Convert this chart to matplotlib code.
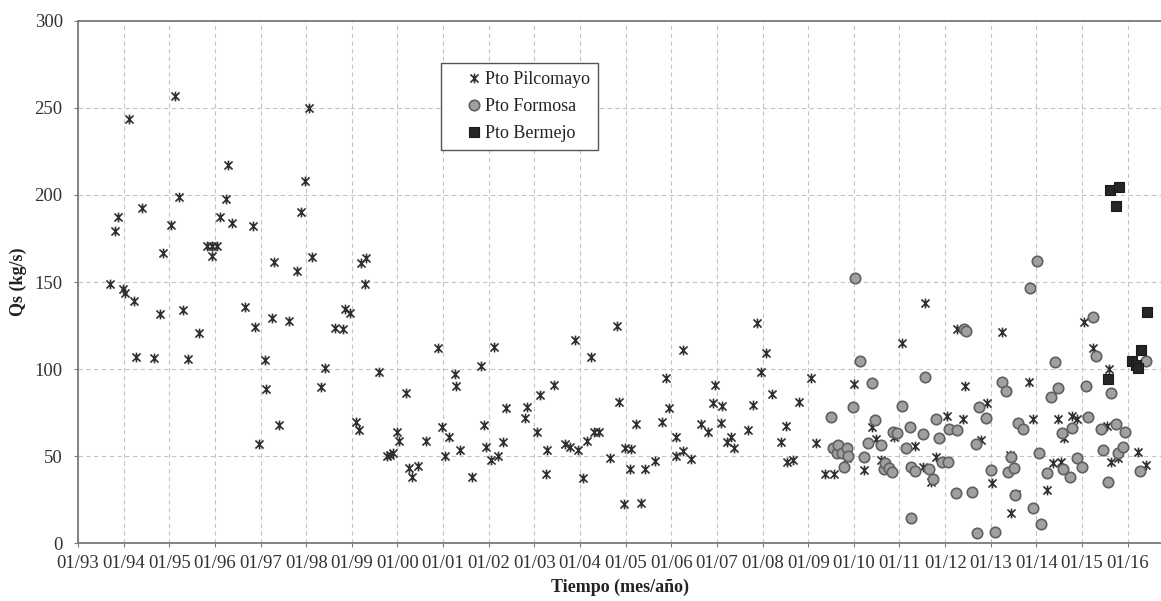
import matplotlib
matplotlib.use("Agg")
import matplotlib.pyplot as plt
from matplotlib.path import Path
import numpy as np

plt.rcParams['font.family'] = ['Liberation Serif', 'DejaVu Serif']

# Pto Pilcomayo (decimal year, Qs kg/s)
pil_t = [1993.70, 1993.81, 1993.88, 1993.98, 1994.03, 1994.12, 1994.23, 1994.27, 1994.40, 1994.67,
         1994.80, 1994.87, 1995.04, 1995.13, 1995.22, 1995.29, 1995.42, 1995.66, 1995.82, 1995.93,
         1995.94, 1996.04, 1996.11, 1996.24, 1996.28, 1996.38, 1996.66, 1996.84, 1996.88, 1996.96,
         1997.10, 1997.12, 1997.24, 1997.29, 1997.40, 1997.62, 1997.80, 1997.89, 1997.97, 1998.06,
         1998.12, 1998.32, 1998.41, 1998.62, 1998.80, 1998.85, 1998.96, 1999.10, 1999.16, 1999.19,
         1999.29, 1999.32, 1999.60, 1999.76, 1999.84, 1999.91, 2000.00, 2000.03, 2000.18, 2000.25,
         2000.32, 2000.44, 2000.62, 2000.88, 2000.98, 2001.04, 2001.13, 2001.26, 2001.28, 2001.37,
         2001.63, 2001.83, 2001.90, 2001.93, 2002.04, 2002.12, 2002.21, 2002.32, 2002.38, 2002.79,
         2002.83, 2003.05, 2003.13, 2003.25, 2003.28, 2003.44, 2003.66, 2003.78, 2003.89, 2003.95,
         2004.07, 2004.15, 2004.24, 2004.31, 2004.42, 2004.66, 2004.80, 2004.86, 2004.96, 2004.98,
         2005.09, 2005.12, 2005.23, 2005.34, 2005.42, 2005.64, 2005.79, 2005.88, 2005.95, 2006.10,
         2006.11, 2006.25, 2006.26, 2006.43, 2006.65, 2006.80, 2006.92, 2006.96, 2007.09, 2007.10,
         2007.21, 2007.31, 2007.38, 2007.69, 2007.80, 2007.87, 2007.96, 2008.07, 2008.20, 2008.40,
         2008.51, 2008.53, 2008.66, 2008.80, 2009.06, 2009.18, 2009.37, 2009.57, 2009.84, 2010.01,
         2010.23, 2010.40, 2010.48, 2010.60, 2010.87, 2011.06, 2011.33, 2011.52, 2011.56, 2011.70,
         2011.81, 2012.05, 2012.27, 2012.40, 2012.43, 2012.79, 2012.91, 2013.03, 2013.24, 2013.42,
         2013.44, 2013.55, 2013.84, 2013.92, 2014.23, 2014.37, 2014.48, 2014.54, 2014.61, 2014.79,
         2014.90, 2015.05, 2015.24, 2015.54, 2015.58, 2015.63, 2015.78, 2016.23, 2016.41]
pil_q = [149.0, 179.4, 187.1, 146.0, 143.9, 243.7, 139.1, 106.8, 192.3, 106.6,
         131.5, 166.5, 182.7, 256.9, 198.6, 133.9, 105.7, 120.9, 170.7, 170.7,
         165.1, 170.7, 187.1, 197.4, 217.3, 183.7, 135.5, 182.3, 124.4, 57.0,
         105.3, 88.6, 129.5, 161.6, 68.0, 127.6, 156.5, 190.3, 207.9, 249.6,
         164.2, 90.0, 100.5, 123.8, 123.0, 134.3, 132.0, 69.9, 65.1, 160.7,
         148.9, 163.6, 98.2, 50.2, 50.8, 52.1, 64.1, 59.0, 86.1, 43.1,
         38.3, 44.5, 59.0, 112.3, 67.0, 50.2, 61.3, 97.0, 90.5, 53.6,
         38.3, 101.8, 68.0, 55.2, 47.9, 112.5, 50.2, 58.4, 77.9, 72.2,
         78.1, 63.8, 85.2, 39.9, 53.6, 90.9, 57.1, 55.2, 116.7, 53.6,
         37.4, 59.0, 106.8, 63.8, 63.8, 49.2, 124.9, 81.3, 22.5, 54.6,
         42.7, 54.0, 68.4, 23.1, 42.7, 47.3, 69.9, 95.1, 77.9, 60.9,
         50.4, 111.0, 53.1, 48.6, 68.4, 63.8, 80.8, 90.9, 68.9, 79.0,
         58.0, 61.3, 55.0, 65.1, 79.4, 126.7, 98.6, 109.1, 85.6, 58.4,
         67.6, 46.6, 47.9, 81.3, 95.1, 57.8, 39.9, 39.9, 49.2, 91.3,
         42.2, 67.0, 59.8, 47.9, 61.0, 114.8, 55.9, 44.0, 138.1, 35.0,
         49.8, 73.1, 122.9, 71.2, 90.3, 59.4, 80.4, 34.9, 121.5, 50.5,
         17.3, 28.5, 92.8, 71.2, 30.7, 46.0, 71.2, 46.9, 60.3, 73.1,
         71.2, 127.2, 112.0, 67.4, 100.1, 46.9, 48.9, 52.7, 45.0]

# Pto Formosa
for_t = [2009.51, 2009.55, 2009.62, 2009.66, 2009.75, 2009.79, 2009.84, 2009.88, 2009.99, 2010.02,
         2010.13, 2010.23, 2010.30, 2010.39, 2010.46, 2010.59, 2010.65, 2010.68, 2010.77, 2010.83,
         2010.86, 2010.94, 2011.06, 2011.14, 2011.24, 2011.25, 2011.26, 2011.34, 2011.51, 2011.56,
         2011.65, 2011.74, 2011.79, 2011.87, 2011.94, 2012.06, 2012.09, 2012.24, 2012.27, 2012.42,
         2012.45, 2012.58, 2012.67, 2012.69, 2012.74, 2012.89, 2013.00, 2013.09, 2013.25, 2013.33,
         2013.38, 2013.44, 2013.51, 2013.53, 2013.60, 2013.71, 2013.86, 2013.93, 2014.01, 2014.06,
         2014.11, 2014.23, 2014.32, 2014.41, 2014.48, 2014.55, 2014.59, 2014.73, 2014.79, 2014.90,
         2015.00, 2015.09, 2015.12, 2015.25, 2015.30, 2015.42, 2015.47, 2015.56, 2015.63, 2015.74,
         2015.79, 2015.90, 2015.95, 2016.28, 2016.41]
for_q = [72.7, 54.6, 51.7, 56.5, 52.1, 43.7, 54.6, 50.2, 78.1, 152.5,
         104.9, 49.8, 57.5, 92.2, 70.8, 56.5, 42.6, 46.0, 43.1, 41.2,
         64.1, 63.6, 79.0, 54.6, 66.6, 44.0, 14.4, 41.8, 62.8, 95.3,
         42.6, 36.8, 71.4, 60.3, 46.6, 46.6, 65.7, 29.1, 65.1, 122.9,
         122.0, 29.7, 57.0, 5.9, 78.2, 71.8, 42.2, 6.8, 92.8, 87.7,
         41.2, 49.4, 43.1, 27.8, 68.9, 65.5, 146.4, 20.2, 162.2, 52.1,
         11.2, 40.6, 84.2, 104.3, 89.0, 63.6, 42.6, 38.0, 66.1, 48.9,
         43.7, 90.3, 72.7, 129.8, 107.6, 65.5, 53.6, 35.5, 86.1, 68.5,
         51.7, 55.5, 64.1, 41.8, 104.7]

# Pto Bermejo
ber_t = [2015.57, 2015.61, 2015.74, 2015.81, 2016.09, 2016.19, 2016.23, 2016.29, 2016.42]
ber_q = [94.3, 202.8, 193.8, 204.3, 104.9, 102.5, 100.5, 111.2, 132.6]

years = list(range(1993, 2017))
year_labels = [f"01/{y % 100:02d}" for y in years]

# X crossed by a vertical line (Excel "star" marker)
star = Path([(-1, -1), (1, 1), (-1, 1), (1, -1), (0, -1.2), (0, 1.2)],
            [Path.MOVETO, Path.LINETO, Path.MOVETO, Path.LINETO, Path.MOVETO, Path.LINETO])

fig = plt.figure(figsize=(11.61, 6.01), dpi=100)
ax = fig.add_axes([0.0672, 0.0957, 0.9328, 0.870])

ax.plot(pil_t, pil_q, ls='none', marker=star, ms=7, mec='#303030', mew=1.2,
        mfc='none', label='Pto Pilcomayo', zorder=3)
ax.plot(for_t, for_q, ls='none', marker='o', ms=7.5, mfc='#a0a0a0', mec='#606060',
        mew=1.2, label='Pto Formosa', zorder=3)
ax.plot(ber_t, ber_q, ls='none', marker='s', ms=7, mfc='#262626', mec='#1a1a1a',
        mew=0.8, label='Pto Bermejo', zorder=4)

ax.set_xlim(1993, 2016.73)
ax.set_ylim(0, 300)
ax.set_xticks(years)
ax.set_xticklabels(year_labels)
ax.set_yticks(range(0, 301, 50))

ax.grid(True, color='#c4c4c4', linestyle=(0, (4, 3)), linewidth=0.8)
ax.set_axisbelow(True)

for s in ['top', 'left', 'bottom']:
    ax.spines[s].set_color('#7a7a7a')
    ax.spines[s].set_linewidth(1.3)
ax.spines['right'].set_visible(False)

ax.tick_params(axis='both', labelsize=13.5, colors='#7a7a7a', labelcolor='#333333',
               length=3, direction='out')
ax.tick_params(axis='x', pad=5)
ax.tick_params(axis='y', pad=8)

ax.set_xlabel('Tiempo (mes/año)', fontsize=13, fontweight='bold', color='#222222')
ax.set_ylabel('Qs (kg/s)', fontsize=13, fontweight='bold', color='#222222')
ax.xaxis.set_label_coords(0.5, -0.068)
ax.yaxis.set_label_coords(-0.047, 0.5)

leg = ax.legend(loc='upper left', bbox_to_anchor=(441 / 1161, 1 - 63 / 601),
                bbox_transform=fig.transFigure, borderaxespad=0, fontsize=13,
                handlelength=2.8, handletextpad=-0.8, borderpad=0.45,
                labelspacing=0.55, fancybox=False, framealpha=1, numpoints=1)
leg.get_frame().set_edgecolor('#555555')
leg.get_frame().set_linewidth(1.0)
for t in leg.get_texts():
    t.set_color('#222222')

fig.savefig('out.png', dpi=100)
